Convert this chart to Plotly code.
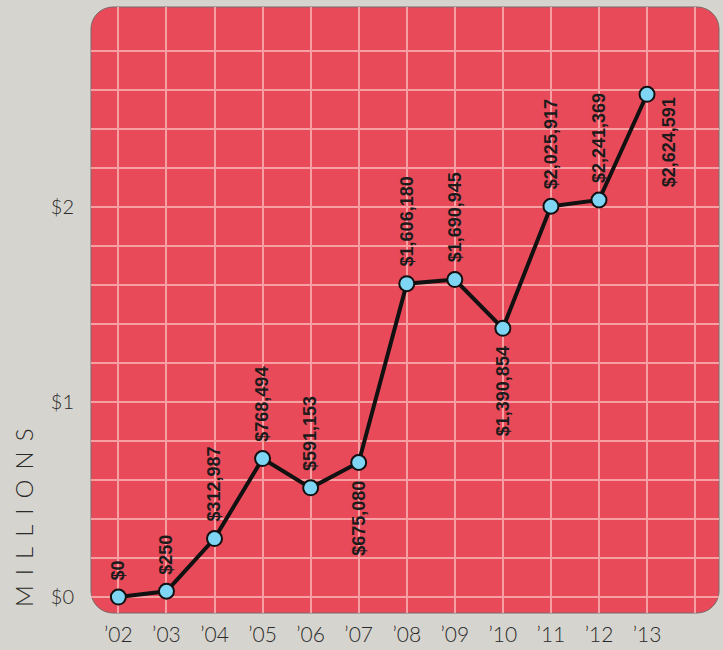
import plotly.graph_objects as go

# ---- data ----
years = [2002, 2003, 2004, 2005, 2006, 2007, 2008, 2009, 2010, 2011, 2012, 2013]
year_labels = ["’02", "’03", "’04", "’05", "’06", "’07", "’08", "’09", "’10", "’11", "’12", "’13"]
values_millions = [0.0, 0.03, 0.30, 0.71, 0.56, 0.69, 1.607, 1.628, 1.378, 2.004, 2.036, 2.578]
value_labels = ["$0", "$250", "$312,987", "$768,494", "$591,153", "$675,080",
                "$1,606,180", "$1,690,945", "$1,390,854", "$2,025,917", "$2,241,369", "$2,624,591"]
y_tick_values = [0, 1, 2]
y_tick_labels = ["$0", "$1", "$2"]

# ---- style ----
BG = "#D6D4CE"
RED = "#E84A5A"
GRID = "#F6A0A4"
W, H = 723, 650
ML, MR, MT, MB = 91, 4, 7, 34
PW, PH = W - ML - MR, H - MT - MB

# label placement (style only)
below = {"’07", "’10"}
right_below = {"’13"}

fig = go.Figure()
fig.add_trace(go.Scatter(
    x=years, y=values_millions, mode="lines+markers",
    line=dict(color="#111111", width=4),
    marker=dict(size=15, color="#7FD6F4", line=dict(color="#111111", width=2)),
    hoverinfo="skip", showlegend=False,
))

annotations = []
for xv, yv, lab, yl in zip(years, values_millions, value_labels, year_labels):
    a = dict(x=xv, y=yv, xref="x", yref="y", text=lab, textangle=-90, showarrow=False,
             font=dict(family="Liberation Sans, Arial, sans-serif", size=18, color="#1b1b1b", weight="bold"),
             xanchor="center")
    if yl in right_below:
        a.update(yanchor="top", yshift=-1, xshift=22)
    elif yl in below:
        a.update(yanchor="top", yshift=-16)
    else:
        a.update(yanchor="bottom", yshift=15)
    annotations.append(a)

gap = "\u2005\u2006"
annotations.append(dict(
    x=-(ML - 23.5) / PW, y=(H - MB - 520) / PH, xref="paper", yref="paper",
    text=gap.join("MILLIONS"),
    textangle=-90, showarrow=False, xanchor="center", yanchor="middle",
    font=dict(family="Lato, sans-serif", size=24, color="#2a2a2a", weight=300),
))

# rounded rectangle background in paper coords
r = 22
rx, ry = r / PW, r / PH
k = 0.5523
path = (f"M {rx},0 L {1-rx},0 C {1-rx+rx*k},0 1,{ry-ry*k} 1,{ry} "
        f"L 1,{1-ry} C 1,{1-ry+ry*k} {1-rx+rx*k},1 {1-rx},1 "
        f"L {rx},1 C {rx-rx*k},1 0,{1-ry+ry*k} 0,{1-ry} "
        f"L 0,{ry} C 0,{ry-ry*k} {rx-rx*k},0 {rx},0 Z")

fig.update_layout(
    width=W, height=H,
    margin=dict(l=ML, r=MR, t=MT, b=MB),
    paper_bgcolor=BG, plot_bgcolor="rgba(0,0,0,0)",
    shapes=[dict(type="path", path=path, xref="paper", yref="paper", layer="below",
                 fillcolor=RED, line=dict(color="#7a6666", width=1))],
    annotations=annotations,
    xaxis=dict(
        range=[2001.43, 2014.497], tickmode="array", tickvals=years, ticktext=year_labels,
        showgrid=True, gridcolor=GRID, gridwidth=1.5, zeroline=False, showline=False, ticks="",
        ticklabelstandoff=7,
        tickfont=dict(family="Lato, sans-serif", size=21, color="#2a2a2a", weight=300),
        minor=dict(dtick=1, tick0=2002, showgrid=True, gridcolor=GRID, gridwidth=1.5),
        fixedrange=True,
    ),
    yaxis=dict(
        range=[-0.0816, 3.0255], tickmode="array", tickvals=y_tick_values, ticktext=y_tick_labels,
        showgrid=True, gridcolor=GRID, gridwidth=1.5, zeroline=False, showline=False, ticks="",
        ticklabelstandoff=16,
        tickfont=dict(family="Lato, sans-serif", size=20, color="#2a2a2a", weight=300),
        minor=dict(tickmode="array", tickvals=[round(i * 0.2, 1) for i in range(15)],
                   showgrid=True, gridcolor=GRID, gridwidth=1.5),
        fixedrange=True,
    ),
)

fig.write_html("out.html", config={"displayModeBar": False},
               post_script="document.body.style.margin='0';document.body.style.background='%s';" % BG)
